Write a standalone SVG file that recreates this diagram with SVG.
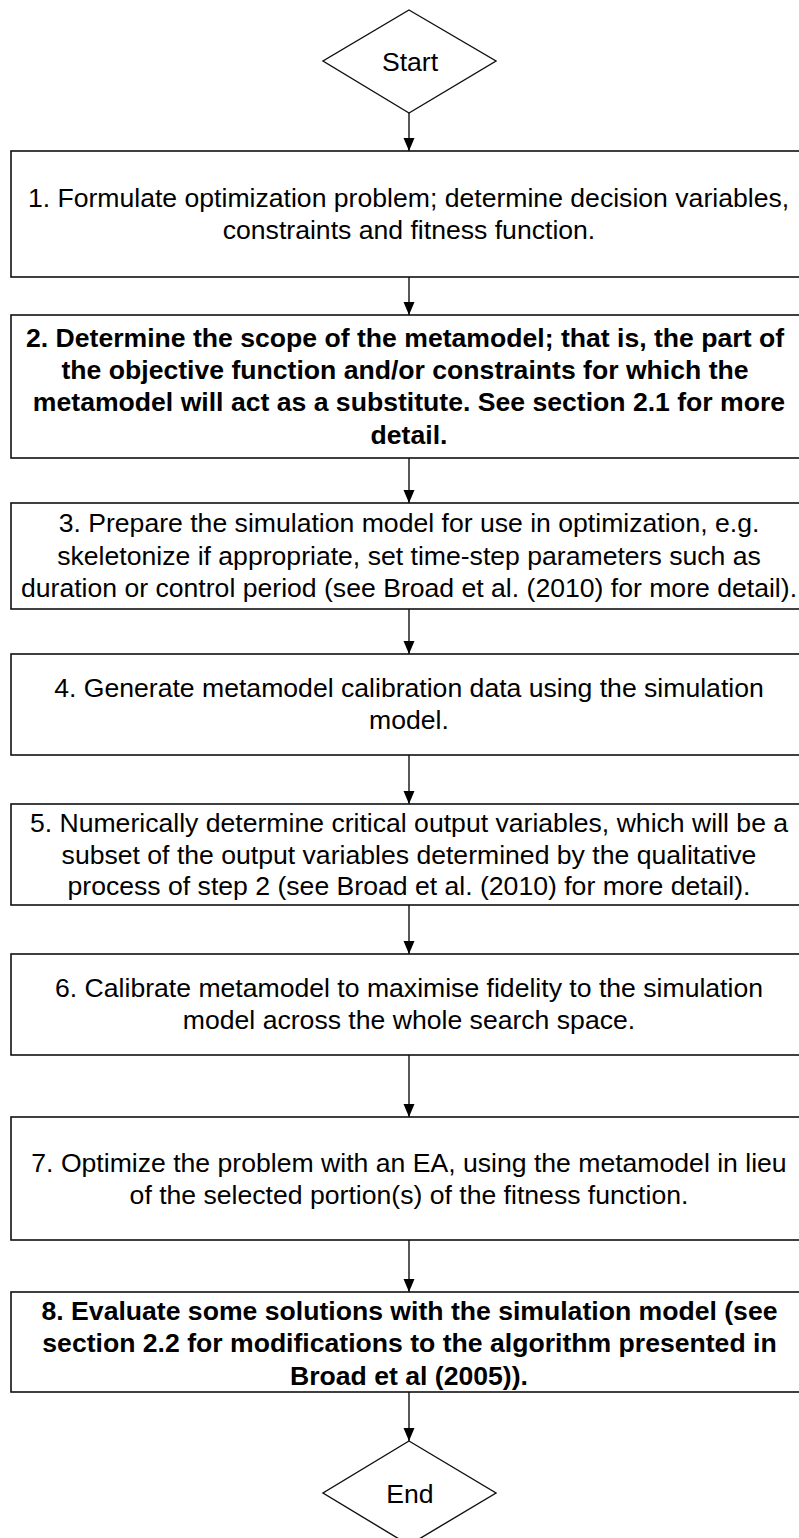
<svg xmlns="http://www.w3.org/2000/svg" width="799" height="1538" viewBox="0 0 799 1538">
  <style>
    .box { fill: #ffffff; stroke: #111111; stroke-width: 1.6; }
    .dia { fill: #ffffff; stroke: #111111; stroke-width: 1.4; }
    .t { font-family: "Liberation Sans", Arial, sans-serif; font-size: 26.6px; fill: #000000; text-anchor: middle; }
    .b { font-weight: bold; }
    .edge { stroke: #111111; stroke-width: 1.4; fill: none; marker-end: url(#arrow); }
  </style>
  <defs>
    <!-- solid triangular arrowhead, tip at the line end -->
    <marker id="arrow" markerUnits="userSpaceOnUse" markerWidth="13" markerHeight="12" refX="13" refY="6" orient="auto" viewBox="0 0 13 12">
      <path d="M0,0.5 L13,6 L0,11.5 Z" fill="#000000"/>
    </marker>
  </defs>
  <rect width="799" height="1538" fill="#ffffff"/>

  <!-- connectors between consecutive steps -->
  <g id="connectors">
    <line class="edge" x1="409" y1="113" x2="409" y2="151"/>
    <line class="edge" x1="409" y1="277" x2="409" y2="315"/>
    <line class="edge" x1="409" y1="458" x2="409" y2="503"/>
    <line class="edge" x1="409" y1="609" x2="409" y2="654"/>
    <line class="edge" x1="409" y1="755" x2="409" y2="804"/>
    <line class="edge" x1="409" y1="905" x2="409" y2="954"/>
    <line class="edge" x1="409" y1="1055" x2="409" y2="1117"/>
    <line class="edge" x1="409" y1="1240" x2="409" y2="1292"/>
    <line class="edge" x1="409" y1="1392" x2="409" y2="1441"/>
  </g>

  <g id="start">
    <polygon class="dia" points="409,10 496,61 409,113 323,61"/>
    <text class="t" x="410" y="71">Start</text>
  </g>

  <g id="step1">
    <rect class="box" x="11" y="151" width="800" height="126"/>
    <text class="t" x="408.5" y="207">1. Formulate optimization problem; determine decision variables,</text>
    <text class="t" x="409" y="239">constraints and fitness function.</text>
  </g>

  <g id="step2">
    <rect class="box" x="11" y="315" width="800" height="143"/>
    <text class="t b" x="405" y="346.5">2. Determine the scope of the metamodel; that is, the part of</text>
    <text class="t b" x="405" y="378.5">the objective function and/or constraints for which the</text>
    <text class="t b" x="409" y="411">metamodel will act as a substitute. See section 2.1 for more</text>
    <text class="t b" x="409" y="443.5">detail.</text>
  </g>

  <g id="step3">
    <rect class="box" x="11" y="503" width="800" height="106"/>
    <text class="t" x="409" y="532">3. Prepare the simulation model for use in optimization, e.g.</text>
    <text class="t" x="409" y="564.5">skeletonize if appropriate, set time-step parameters such as</text>
    <text class="t" x="409" y="597">duration or control period (see Broad et al. (2010) for more detail).</text>
  </g>

  <g id="step4">
    <rect class="box" x="11" y="654" width="800" height="101"/>
    <text class="t" x="409" y="697">4. Generate metamodel calibration data using the simulation</text>
    <text class="t" x="409" y="729">model.</text>
  </g>

  <g id="step5">
    <rect class="box" x="11" y="804" width="800" height="101"/>
    <text class="t" x="409" y="831.5">5. Numerically determine critical output variables, which will be a</text>
    <text class="t" x="409" y="863.5">subset of the output variables determined by the qualitative</text>
    <text class="t" x="409" y="895">process of step 2 (see Broad et al. (2010) for more detail).</text>
  </g>

  <g id="step6">
    <rect class="box" x="11" y="954" width="800" height="101"/>
    <text class="t" x="409" y="997">6. Calibrate metamodel to maximise fidelity to the simulation</text>
    <text class="t" x="409" y="1029">model across the whole search space.</text>
  </g>

  <g id="step7">
    <rect class="box" x="11" y="1117" width="800" height="123"/>
    <text class="t" x="409" y="1171.5">7. Optimize the problem with an EA, using the metamodel in lieu</text>
    <text class="t" x="409" y="1204">of the selected portion(s) of the fitness function.</text>
  </g>

  <g id="step8">
    <rect class="box" x="11" y="1292" width="800" height="100"/>
    <text class="t b" x="409.5" y="1319.5">8. Evaluate some solutions with the simulation model (see</text>
    <text class="t b" x="409.5" y="1352">section 2.2 for modifications to the algorithm presented in</text>
    <text class="t b" x="409" y="1384.5">Broad et al (2005)).</text>
  </g>

  <g id="end">
    <polygon class="dia" points="409,1441 496,1493 409,1545 323,1493"/>
    <text class="t" x="410" y="1503">End</text>
  </g>
</svg>
